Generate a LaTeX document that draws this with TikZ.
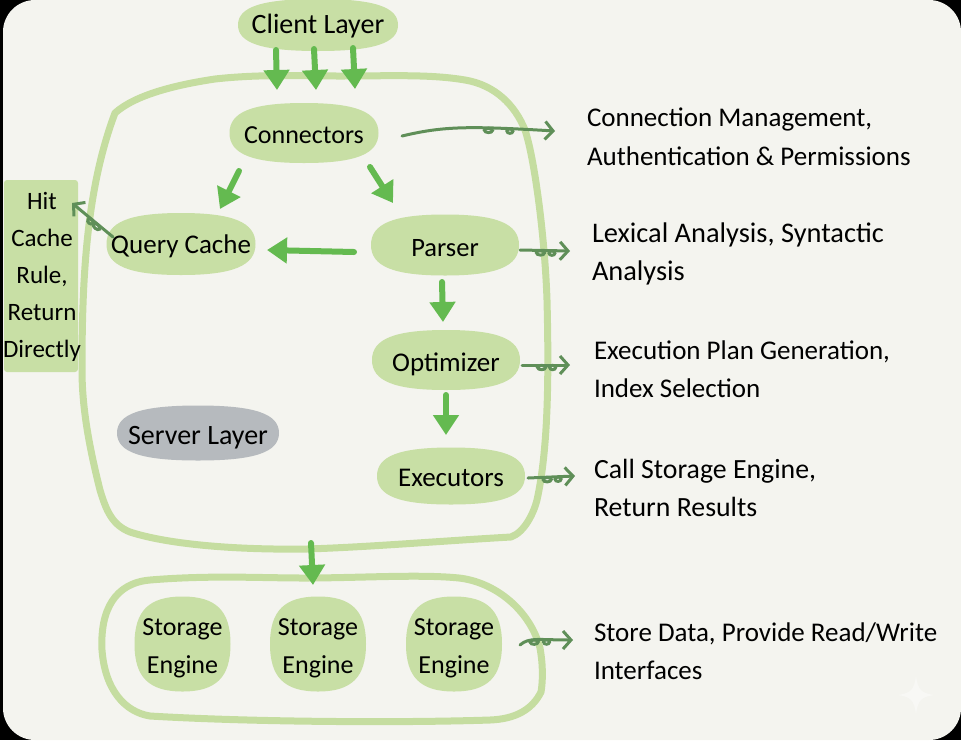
\documentclass[tikz,border=0pt]{standalone}
\usepackage{fontspec}
\setmainfont{Carlito}
\usetikzlibrary{arrows.meta,decorations.markings,calc}
\definecolor{pagebg}{HTML}{F4F4EF}
\definecolor{blob}{HTML}{C8DFA5}
\definecolor{rim}{HTML}{C5DDA0}
\definecolor{bright}{HTML}{64BA50}
\definecolor{dk}{HTML}{5F8F58}
\definecolor{greyblob}{HTML}{B6BABE}
\newcommand{\dn}[2][10pt]{\raisebox{-#1}[0pt][0pt]{#2}}
\newcommand{\twolines}[2]{\raisebox{-9pt}[0pt][0pt]{\begin{tabular}{@{}c@{}}#1\\#2\end{tabular}}}
\tikzset{
  x=1pt,y=-1pt,
  every node/.style={inner sep=0pt,outer sep=0pt,text=black},
  blobshape/.style={rectangle,align=center,font=\fontsize{27}{38}\selectfont,
    path picture={
      \def\ppb{path picture bounding box}
      \fill[#1] (\ppb.west)
        .. controls ($(\ppb.west)!.7!(\ppb.north west)$) and ($(\ppb.north)!.7!(\ppb.north west)$) .. (\ppb.north)
        .. controls ($(\ppb.north)!.7!(\ppb.north east)$) and ($(\ppb.east)!.7!(\ppb.north east)$) .. (\ppb.east)
        .. controls ($(\ppb.east)!.7!(\ppb.south east)$) and ($(\ppb.south)!.7!(\ppb.south east)$) .. (\ppb.south)
        .. controls ($(\ppb.south)!.7!(\ppb.south west)$) and ($(\ppb.west)!.7!(\ppb.south west)$) .. (\ppb.west) -- cycle;
    }},
  blobnode/.style={blobshape=blob},
  enginenode/.style={blobshape=blob,minimum width=96pt,minimum height=95pt,font=\fontsize{26}{38}\selectfont},
  label/.style={anchor=west,align=left,font=\fontsize{27}{38.5}\selectfont},
  rimline/.style={draw=rim,line width=7pt,line join=round},
  bigarrow/.style={draw=bright,line width=6pt,line cap=round,-{Triangle[width=25pt,length=20pt]}},
  thin arrow/.style={draw=dk,line width=3pt,line cap=round,
    -{Straight Barb[length=8pt,width=18pt,line width=3pt]},
    postaction={decorate}},
  loopsat/.style n args={2}{decoration={markings,
    mark=at position #1 with {\draw[dk,line width=3pt] (-2,2.5) circle[x radius=4pt,y radius=2.2pt];},
    mark=at position #2 with {\draw[dk,line width=3pt] (-2,2.5) circle[x radius=3pt,y radius=2.2pt];}}},
  loopsflip/.style n args={2}{decoration={markings,
    mark=at position #1 with {\draw[dk,line width=3pt] (-2,-2.5) circle[x radius=4pt,y radius=2.2pt];},
    mark=at position #2 with {\draw[dk,line width=3pt] (-2,-2.5) circle[x radius=3pt,y radius=2.2pt];}}},
}
\begin{document}
\begin{tikzpicture}
\useasboundingbox (0,0) rectangle (961,740);
\fill[black] (0,0) rectangle (961,740);
\fill[pagebg,rounded corners=32pt] (3,0) rectangle (961,740);
% sparkle mark
\fill[white,opacity=.4] (916,676) .. controls (918,690) and (921,693) .. (934,695) .. controls (921,697) and (918,700) .. (916,714) .. controls (914,700) and (911,697) .. (898,695) .. controls (911,693) and (914,690) .. (916,676) -- cycle;
% layer outlines
\draw[rimline] (115,113) .. controls (135,95) and (175,85) .. (215,79) .. controls (260,74) and (300,76) .. (340,76) .. controls (390,76) and (430,74) .. (465,80) .. controls (495,85) and (515,105) .. (525,130) .. controls (535,160) and (545,240) .. (547,300) .. controls (549,380) and (548,450) .. (537,500) .. controls (534,512) and (525,532) .. (511,537) .. controls (440,541) and (370,547) .. (307,549) .. controls (240,550) and (170,545) .. (130,532) .. controls (112,525) and (106,510) .. (100,490) .. controls (90,450) and (82,410) .. (82,370) .. controls (82,280) and (86,190) .. (115,113) -- cycle;
\draw[rimline] (150,580) .. controls (210,575) and (260,578) .. (304,578) .. controls (360,578) and (420,574) .. (459,578) .. controls (495,582) and (530,610) .. (540,648) .. controls (543,665) and (543,680) .. (541,692) .. controls (532,710) and (515,719) .. (490,720) .. controls (400,723) and (250,722) .. (150,716) .. controls (125,712) and (105,690) .. (102,650) .. controls (100,610) and (115,583) .. (150,580) -- cycle;
% invisible frames of the two layers
\node[minimum width=463pt,minimum height=473pt] (srv) at (316,312) {};
\node[minimum width=437pt,minimum height=142pt] (eng) at (321,650) {};
% Hit box
\node[fill=blob,rounded corners=3pt,minimum width=74pt,minimum height=192pt] (hit) at (41,276) {};
\node[align=center,font=\fontsize{25}{36.8}\selectfont] (hittext) at (42,277) {Hit\\Cache\\Rule,\\Return\\Directly};
% nodes
\node[blobnode,minimum width=160pt,minimum height=52pt,font=\fontsize{28}{38}\selectfont] (client) at (318,25) {\dn[8pt]{Client Layer}};
\node[blobnode,minimum width=149pt,minimum height=60pt,font=\fontsize{26}{38}\selectfont] (conn) at (304,133) {\dn{Connectors}};
\node[blobnode,minimum width=149pt,minimum height=62pt] (cache) at (181,244) {\dn[9pt]{Query Cache}};
\node[blobnode,minimum width=148pt,minimum height=61pt,font=\fontsize{26.5}{38}\selectfont] (parser) at (445,245) {\dn[11pt]{Parser}};
\node[blobnode,minimum width=148pt,minimum height=60pt] (opt) at (446,360) {\dn[11pt]{Optimizer}};
\node[blobnode,minimum width=148pt,minimum height=57pt] (exec) at (451,476) {\dn{Executors}};
\node[blobshape=greyblob,minimum width=162pt,minimum height=55pt,font=\fontsize{28}{38}\selectfont] (server) at (198,433) {\dn[11pt]{Server Layer}};
\node[enginenode] (se1) at (182.5,644) {\twolines{Storage}{Engine}};
\node[enginenode] (se2) at (318,644) {\twolines{Storage}{Engine}};
\node[enginenode] (se3) at (454,644) {\twolines{Storage}{Engine}};
% labels
\node[label] (l1) at (587,137) {Connection Management,\\Authentication \& Permissions};
\node[label,font=\fontsize{28.4}{38.5}\selectfont] (l2) at (592,254) {Lexical Analysis, Syntactic\\Analysis};
\node[label] (l3) at (594,369) {Execution Plan Generation,\\Index Selection};
\node[label,font=\fontsize{27.8}{38.5}\selectfont] (l4) at (594,488) {Call Storage Engine,\\Return Results};
\node[label] (l5) at (594,651) {Store Data, Provide Read/Write\\Interfaces};
% big arrows
\draw[bigarrow] ([shift={(-42,25)}]client.center) -- ([shift={(-39,-222)}]srv.center);
\draw[bigarrow] ([shift={(-4,24)}]client.center) -- ([shift={(0,-222)}]srv.center);
\draw[bigarrow] ([shift={(35,23)}]client.center) -- ([shift={(39,-223)}]srv.center);
\draw[bigarrow] ([shift={(-65,38)}]conn.center) -- ([shift={(39,-35)}]cache.center);
\draw[bigarrow] ([shift={(66,34)}]conn.center) -- ([shift={(-52,-42)}]parser.center);
\draw[bigarrow] ([shift={(-91,7)}]parser.center) -- ([shift={(86,6)}]cache.center);
\draw[bigarrow] ([shift={(-3,37)}]parser.center) -- ([shift={(-3,-38)}]opt.center);
\draw[bigarrow] ([shift={(0,35)}]opt.center) -- ([shift={(-5,-41)}]exec.center);
\draw[bigarrow] ([shift={(-5,231)}]srv.center) -- ([shift={(-8,-65)}]eng.center);
% thin arrows
\draw[thin arrow,loopsat={.58}{.72}] ([shift={(98,3)}]conn.center) .. controls ([shift={(140,-7)}]conn.center) and ([shift={(165,-7)}]conn.center) .. ([shift={(-32,-6)}]l1.west);
\draw[thin arrow,loopsat={.45}{.68}] ([shift={(75,5)}]parser.center) -- ([shift={(-22,-3)}]l2.west);
\draw[thin arrow,loopsat={.45}{.68}] ([shift={(76,5)}]opt.center) -- ([shift={(-24,-4)}]l3.west);
\draw[thin arrow,loopsat={.45}{.68}] ([shift={(77,2)}]exec.center) -- ([shift={(-19,-12)}]l4.west);
\draw[thin arrow,loopsat={.32}{.55}] ([shift={(66,1)}]se3.center) .. controls ([shift={(75,-7)}]se3.center) and ([shift={(85,-4)}]se3.center) .. ([shift={(-21,-11)}]l5.west);
\draw[thin arrow,loopsflip={.4}{.55}] ([shift={(-68,-7)}]cache.center) -- ([shift={(31,-73)}]hit.center);
\end{tikzpicture}
\end{document}
